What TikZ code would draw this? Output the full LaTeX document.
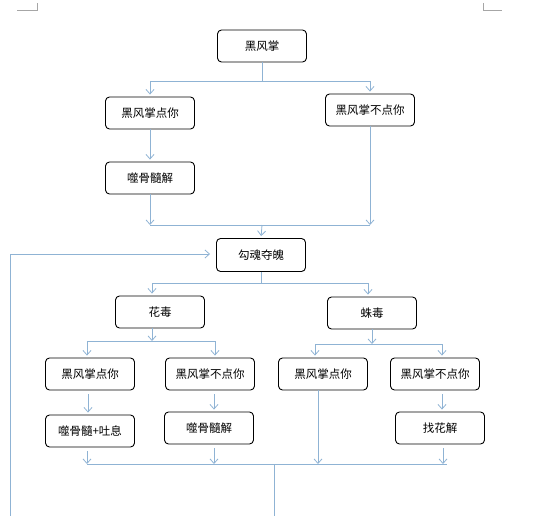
\documentclass[tikz,border=0pt]{standalone}
\usepackage{fontspec}
\newfontfamily\cjk{Noto Sans CJK SC}
\usetikzlibrary{arrows.meta}
\definecolor{lnc}{HTML}{8FB3D4}
\begin{document}
\begin{tikzpicture}[x=1pt,y=-1pt,
  box/.style={draw=black,line width=0.9pt,rounded corners=4pt,minimum width=89pt,minimum height=32pt,inner sep=0pt,font=\cjk\fontsize{11.5}{13}\selectfont},
  conn/.style={draw=lnc,line width=0.8pt},
  arr/.style={conn,-{Straight Barb[length=4.5pt,width=8pt]}},
  arrn/.style={arr,shorten >=2pt},
  crop/.style={draw=black!35,line width=0.5pt}]
\useasboundingbox (0,0) rectangle (533,516);
% crop marks
\coordinate (cm1) at (17,10); \coordinate (cm2) at (37,10); \coordinate (cm3) at (37,3);
\coordinate (cm4) at (483,3); \coordinate (cm5) at (483,10); \coordinate (cm6) at (502,10);
\draw[crop] (cm1) -- (cm2) -- (cm3);
\draw[crop] (cm4) -- (cm5) -- (cm6);
% nodes
\node[box] (a) at (262,46) {黑风掌};
\node[box] (b1) at (150,113) {黑风掌点你};
\node[box] (b2) at (370,110) {黑风掌不点你};
\node[box] (c1) at (150,178) {噬骨髓解};
\node[box,minimum height=33pt] (d) at (261,255) {勾魂夺魄};
\node[box] (e1) at (160,312) {花毒};
\node[box] (e2) at (372,313) {蛛毒};
\node[box] (f1) at (90,374) {黑风掌点你};
\node[box] (f2) at (210,374) {黑风掌不点你};
\node[box] (f3) at (323,374) {黑风掌点你};
\node[box] (f4) at (435,374) {黑风掌不点你};
\node[box] (g1) at (90,431) {噬骨髓+吐息};
\node[box] (g2) at (209,428) {噬骨髓解};
\node[box] (g4) at (440,428) {找花解};
% level 1
\coordinate (j1) at (262,81); \coordinate (j1l) at (150,81); \coordinate (j1r) at (370,81);
\draw[conn] (a.south) -- (j1);
\draw[conn] (j1l) -- (j1r);
\draw[arrn] (j1l) -- (b1.north);
\draw[arrn] (j1r) -- (b2.north);
\draw[arrn] (b1.south) -- (c1.north);
\coordinate (j2) at (262,225); \coordinate (j2l) at (150,225); \coordinate (j2r) at (370,225);
\draw[arr] (c1.south) -- (j2l);
\draw[arr] (b2.south) -- (j2r);
\draw[conn] (j2l) -- (j2r);
\draw[arrn] (j2) -- (d.north);
% loop back
\coordinate (lp1) at (10,516); \coordinate (lp2) at (10,254);
\draw[arr,shorten >=6pt] (lp1) -- (lp2) -- (lp2 -| d.west);
% level 2
\coordinate (j3) at (261,283); \coordinate (j3l) at (152,283); \coordinate (j3r) at (368,283);
\draw[conn] (d.south) -- (j3);
\draw[conn] (j3l) -- (j3r);
\draw[arrn] (j3l) -- (j3l |- e1.north);
\draw[arrn] (j3r) -- (j3r |- e2.north);
% 花毒 branch
\coordinate (e1b) at (152,328); \coordinate (j4) at (152,341);
\coordinate (j4l) at (87,341); \coordinate (j4r) at (215,341);
\draw[arr] (e1b) -- (j4);
\draw[conn] (j4l) -- (j4r);
\draw[arrn] (j4l) -- (j4l |- f1.north);
\draw[arrn] (j4r) -- (j4r |- f2.north);
% 蛛毒 branch
\coordinate (j5) at (372,344);
\coordinate (j5l) at (315,344); \coordinate (j5r) at (442,344);
\draw[arr] (e2.south) -- (j5);
\draw[conn] (j5l) -- (j5r);
\draw[arrn] (j5l) -- (j5l |- f3.north);
\draw[arrn] (j5r) -- (j5r |- f4.north);
% level 3
\draw[arrn,shorten <=4pt] ([xshift=-2pt]f1.south) -- ([xshift=-2pt]g1.north);
\draw[arrn,shorten <=4pt] ([xshift=4pt]f2.south) -- ([xshift=5pt]g2.north);
\draw[arrn,shorten <=4pt] ([xshift=7pt]f4.south) -- ([xshift=2pt]g4.north);
% bottom merge
\coordinate (k1) at (87,464); \coordinate (k2) at (214,464); \coordinate (k3) at (318,464); \coordinate (k4) at (443,464);
\coordinate (kr) at (447,464); \coordinate (km) at (274,464); \coordinate (kb) at (274,516);
\draw[arr,shorten <=4pt] (k1 |- g1.south) -- (k1);
\draw[arr,shorten <=4pt] (k2 |- g2.south) -- (k2);
\draw[arr] (k3 |- f3.south) -- (k3);
\draw[arr,shorten <=4pt] (k4 |- g4.south) -- (k4);
\draw[conn] (k1) -- (kr);
\draw[conn] (km) -- (kb);
\end{tikzpicture}
\end{document}
